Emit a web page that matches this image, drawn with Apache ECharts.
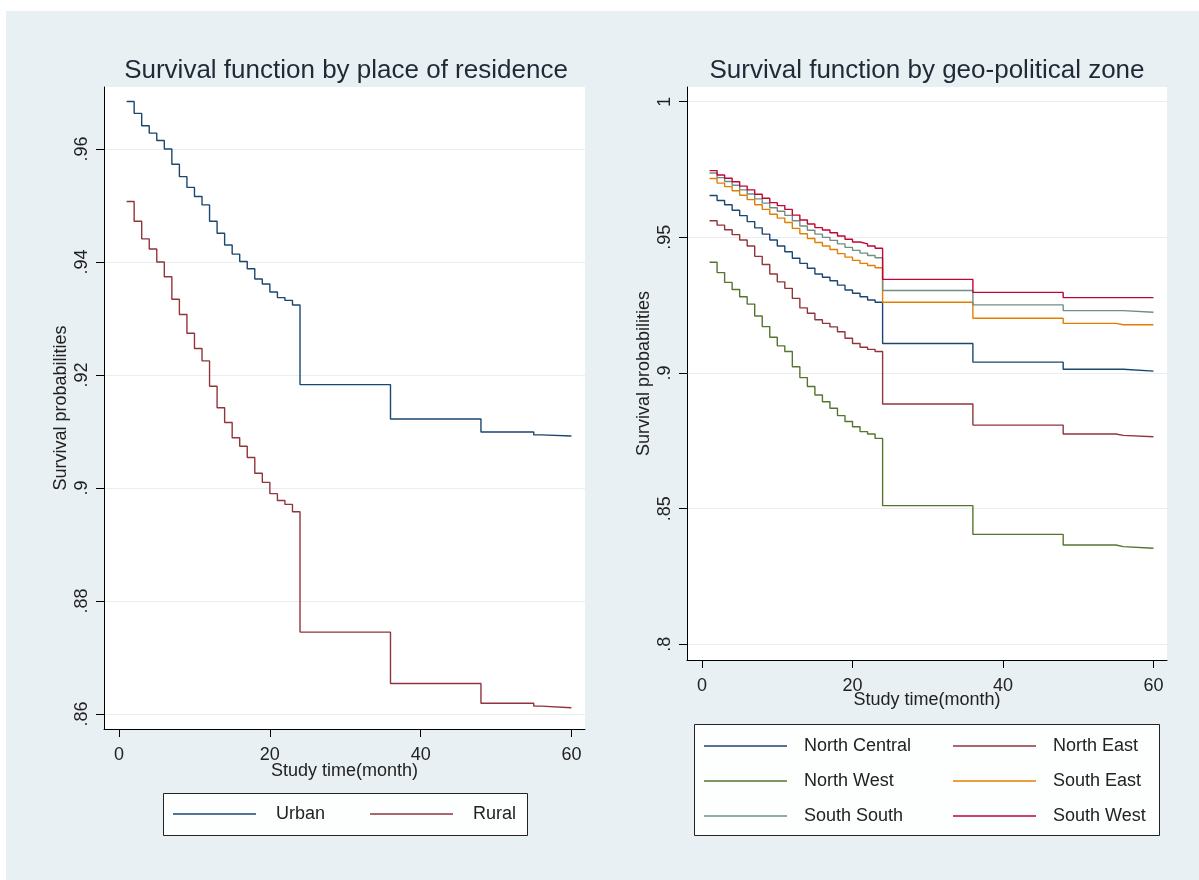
<!DOCTYPE html>
<html>
<head>
<meta charset="utf-8">
<script src="https://cdn.jsdelivr.net/npm/echarts@6/dist/echarts.min.js"></script>
<style>
  html, body { margin: 0; padding: 0; background: #ffffff; }
  #chart { width: 1199px; height: 880px; }
</style>
</head>
<body>
<div id="chart"></div>
<script>
// Kaplan-Meier survival estimates; each value holds from its month until the next one.
const months = [1, 2, 3, 4, 5, 6, 7, 8, 9, 10, 11, 12, 13, 14, 15, 16, 17, 18, 19, 20, 21, 22, 23, 24, 36, 48, 55, 56, 60];

// Place of residence
const urban = [0.9684, 0.9663, 0.9641, 0.9628, 0.9615, 0.9600, 0.9573, 0.9551, 0.9532, 0.9516, 0.9501, 0.9472,
               0.9451, 0.9430, 0.9414, 0.9401, 0.9388, 0.9370, 0.9361, 0.9347, 0.9337, 0.9332, 0.9324,
               0.9183, 0.9122, 0.9099, 0.9094, 0.9092, 0.9092];
const rural = [0.9507, 0.9472, 0.9441, 0.9423, 0.9400, 0.9374, 0.9334, 0.9307, 0.9274, 0.9247, 0.9225, 0.9180,
               0.9142, 0.9116, 0.9089, 0.9074, 0.9054, 0.9026, 0.9010, 0.8990, 0.8978, 0.8971, 0.8958,
               0.8745, 0.8654, 0.8619, 0.8614, 0.8611, 0.8611];

// Geo-political zone
const northCentral = [0.9654, 0.9636, 0.9620, 0.9600, 0.9580, 0.9558, 0.9535, 0.9512, 0.9490, 0.9468, 0.9447, 0.9423,
                      0.9404, 0.9386, 0.9365, 0.9353, 0.9340, 0.9324, 0.9306, 0.9294, 0.9281, 0.9269, 0.9261,
                      0.9109, 0.9040, 0.9014, 0.9014, 0.9007, 0.9007];
const northEast = [0.9561, 0.9545, 0.9528, 0.9510, 0.9490, 0.9468, 0.9430, 0.9400, 0.9365, 0.9336, 0.9312, 0.9275,
                   0.9240, 0.9220, 0.9196, 0.9183, 0.9170, 0.9152, 0.9128, 0.9109, 0.9095, 0.9087, 0.9079,
                   0.8886, 0.8808, 0.8775, 0.8770, 0.8765, 0.8765];
const northWest = [0.9408, 0.9370, 0.9334, 0.9308, 0.9281, 0.9254, 0.9210, 0.9171, 0.9132, 0.9100, 0.9079, 0.9023,
                   0.8983, 0.8950, 0.8919, 0.8894, 0.8870, 0.8843, 0.8821, 0.8802, 0.8784, 0.8775, 0.8759,
                   0.8511, 0.8405, 0.8366, 0.8360, 0.8354, 0.8354];
const southEast = [0.9717, 0.9700, 0.9687, 0.9672, 0.9655, 0.9639, 0.9620, 0.9603, 0.9585, 0.9571, 0.9555, 0.9533,
                   0.9513, 0.9496, 0.9481, 0.9468, 0.9455, 0.9440, 0.9427, 0.9415, 0.9404, 0.9396, 0.9388,
                   0.9261, 0.9202, 0.9183, 0.9178, 0.9178, 0.9178];
const southSouth = [0.9737, 0.9720, 0.9706, 0.9692, 0.9675, 0.9660, 0.9642, 0.9626, 0.9609, 0.9596, 0.9581, 0.9561,
                    0.9542, 0.9526, 0.9512, 0.9500, 0.9489, 0.9476, 0.9463, 0.9452, 0.9442, 0.9433, 0.9425,
                    0.9304, 0.9251, 0.9230, 0.9230, 0.9224, 0.9224];
const southWest = [0.9746, 0.9730, 0.9718, 0.9705, 0.9689, 0.9675, 0.9659, 0.9644, 0.9628, 0.9617, 0.9603, 0.9582,
                   0.9564, 0.9549, 0.9536, 0.9527, 0.9517, 0.9505, 0.9493, 0.9483, 0.9476, 0.9468, 0.9460,
                   0.9345, 0.9297, 0.9278, 0.9278, 0.9278, 0.9278];

// Axis ticks
const xTicks = [0, 20, 40, 60];
const yTicksResidence = [0.86, 0.88, 0.9, 0.92, 0.94, 0.96];
const yTicksZone = [0.8, 0.85, 0.9, 0.95, 1];

const FONT = "'Liberation Sans', Arial, sans-serif";
const TEXT = '#222222';

const residenceSeries = [
  { name: 'Urban', values: urban, color: '#1a476f' },
  { name: 'Rural', values: rural, color: '#90353b' }
];
const zoneSeries = [
  { name: 'North Central', values: northCentral, color: '#1a476f' },
  { name: 'North East', values: northEast, color: '#90353b' },
  { name: 'North West', values: northWest, color: '#55752f' },
  { name: 'South East', values: southEast, color: '#e37e00' },
  { name: 'South South', values: southSouth, color: '#6e8e84' },
  { name: 'South West', values: southWest, color: '#c10534' }
];

// Stata-style decimal labels: .86, .9, 1
const decimalLabel = v => String(+v.toFixed(2)).replace(/^0(?=\.)/, '');

function xAxisFor(gridIndex, nameGap) {
  return {
    type: 'value', gridIndex, min: -2, max: 61.8,
    name: 'Study time(month)', nameLocation: 'middle', nameGap, nameMoveOverlap: false,
    nameTextStyle: { fontFamily: FONT, fontSize: 18, color: TEXT },
    axisLine: { show: true, onZero: false, lineStyle: { color: '#000', width: 1 } },
    axisTick: { show: true, length: 8, customValues: xTicks, lineStyle: { color: '#000', width: 1 } },
    axisLabel: { customValues: xTicks, margin: 17, fontFamily: FONT, fontSize: 18, color: TEXT },
    splitLine: { show: false }
  };
}

function yAxisFor(gridIndex, min, max, ticks) {
  return {
    type: 'value', gridIndex, min, max,
    name: 'Survival probabilities', nameLocation: 'middle', nameGap: 34, nameRotate: 90, nameMoveOverlap: false,
    nameTextStyle: { fontFamily: FONT, fontSize: 18, color: TEXT },
    axisLine: { show: true, onZero: false, lineStyle: { color: '#000', width: 1 } },
    axisTick: { show: true, length: 8, customValues: ticks, lineStyle: { color: '#000', width: 1 } },
    axisLabel: { customValues: ticks, rotate: 90, margin: 13, fontFamily: FONT, fontSize: 18, color: TEXT,
                 formatter: decimalLabel },
    splitLine: { show: true, lineStyle: { color: '#e9eef0', width: 1 } }
  };
}

function stepSeries(def, gridIndex) {
  return {
    name: def.name, type: 'line', step: 'end',
    xAxisIndex: gridIndex, yAxisIndex: gridIndex,
    showSymbol: false, symbol: 'none', color: def.color,
    lineStyle: { color: def.color, width: 1.4 },
    data: months.map((m, i) => [m, def.values[i]])
  };
}

function legendFor(names, left, top, orient, gap) {
  return {
    data: names, left, top, orient, padding: 0, itemGap: 15,
    icon: 'rect', itemWidth: 83, itemHeight: 1.5, selectedMode: false,
    textStyle: { fontFamily: FONT, fontSize: 18, color: TEXT, padding: [0, 0, 0, gap], lineHeight: 20 }
  };
}

const option = {
  animation: false,
  backgroundColor: '#ffffff',
  graphic: [
    { type: 'rect', z: -10, shape: { x: 6, y: 11, width: 1193, height: 869 }, style: { fill: '#e8f0f3' } },
    { type: 'rect', z: -5, shape: { x: 163.5, y: 793.5, width: 364, height: 42 },
      style: { fill: '#fdfefe', stroke: '#222', lineWidth: 1 } },
    { type: 'rect', z: -5, shape: { x: 694.5, y: 724.5, width: 465, height: 111 },
      style: { fill: '#fdfefe', stroke: '#222', lineWidth: 1 } }
  ],
  title: [
    { text: 'Survival function by place of residence', left: 346, top: 58, textAlign: 'center', padding: 0,
      textStyle: { fontFamily: FONT, fontSize: 26, fontWeight: 'normal', color: '#1f2a36' } },
    { text: 'Survival function by geo-political zone', left: 927, top: 58, textAlign: 'center', padding: 0,
      textStyle: { fontFamily: FONT, fontSize: 26, fontWeight: 'normal', color: '#1f2a36' } }
  ],
  grid: [
    { left: 104, top: 87, width: 481, height: 642, show: true, backgroundColor: '#ffffff', borderWidth: 0 },
    { left: 687, top: 87, width: 480, height: 573, show: true, backgroundColor: '#ffffff', borderWidth: 0 }
  ],
  xAxis: [xAxisFor(0, 33), xAxisFor(1, 31)],
  yAxis: [
    yAxisFor(0, 0.85735, 0.97097, yTicksResidence),
    yAxisFor(1, 0.79421, 1.00542, yTicksZone)
  ],
  legend: [
    legendFor(['Urban'], 173, 804, 'horizontal', 15),
    legendFor(['Rural'], 370, 804, 'horizontal', 15),
    legendFor(['North Central', 'North West', 'South South'], 704, 736, 'vertical', 12),
    legendFor(['North East', 'South East', 'South West'], 953, 736, 'vertical', 12)
  ],
  series: [
    ...residenceSeries.map(d => stepSeries(d, 0)),
    ...zoneSeries.map(d => stepSeries(d, 1))
  ]
};

const chart = echarts.init(document.getElementById('chart'), null, { renderer: 'canvas' });
chart.setOption(option);
</script>
</body>
</html>
